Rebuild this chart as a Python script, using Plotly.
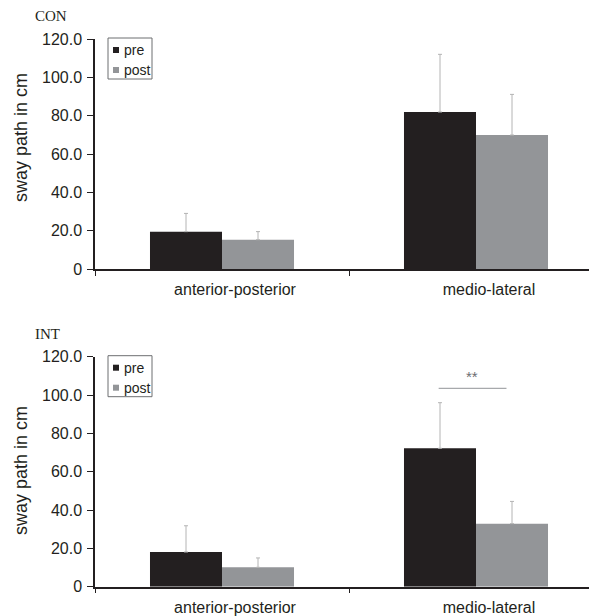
import plotly.graph_objects as go

# ---- data ----
categories = ["anterior-posterior", "medio-lateral"]
series_names = ["pre", "post"]
panel_titles = ["CON", "INT"]
y_title = "sway path in cm"

con_pre = [19.5, 81.9]
con_post = [15.3, 69.9]
con_pre_err = [9.5, 30.1]
con_post_err = [4.2, 21.2]

int_pre = [18.1, 72.2]
int_post = [10.1, 32.9]
int_pre_err = [13.7, 23.8]
int_post_err = [4.9, 11.6]

y_tickvals = [0, 20, 40, 60, 80, 100, 120]
y_ticktext = ["0", "20.0", "40.0", "60.0", "80.0", "100.0", "120.0"]

sig_label = "**"
sig_level = 103.5

# ---- style ----
PAGE_OFF = 8          # default body margin of the html page
W, H = 597 - PAGE_OFF, 616 - PAGE_OFF
PRE_COLOR = "#231f20"
POST_COLOR = "#939598"
ERR_COLOR = "#b4b4b4"
TXT = "#231f20"
FONT = "Liberation Sans"

def px_x(p):
    return (p - PAGE_OFF) / W

def px_y(p):
    return 1 - (p - PAGE_OFF) / H

# panel geometry (page pixels)
x_left, x_right_full = 95, 603
panels_px = [(39, 269), (356.7, 586.7)]  # (top, bottom) of y-range 0..120
ytitle_centers = [138, 471]

fig = go.Figure()

data_sets = [
    (con_pre, con_post, con_pre_err, con_post_err),
    (int_pre, int_post, int_pre_err, int_post_err),
]

for i, (pre, post, pre_e, post_e) in enumerate(data_sets):
    xa = "x" if i == 0 else "x2"
    ya = "y" if i == 0 else "y2"
    for name, vals, errs, col in [
        (series_names[0], pre, pre_e, PRE_COLOR),
        (series_names[1], post, post_e, POST_COLOR),
    ]:
        fig.add_trace(go.Bar(
            x=categories, y=vals, name=name, xaxis=xa, yaxis=ya,
            marker=dict(color=col, line=dict(width=0)),
            error_y=dict(type="data", symmetric=False, array=errs,
                         arrayminus=[0] * len(errs),
                         color=ERR_COLOR, thickness=1, width=2),
            showlegend=False,
        ))

cat_px = (x_right_full - x_left) / len(categories)
x_range = [-0.5, -0.5 + (597 - x_left) / cat_px]

layout = dict(
    template="none",
    width=W, height=H,
    margin=dict(l=0, r=0, t=0, b=0, autoexpand=False),
    paper_bgcolor="white", plot_bgcolor="white",
    barmode="group", bargap=0.433, bargroupgap=0,
    font=dict(family=FONT, color=TXT),
    showlegend=False,
)

for i, (top, bot) in enumerate(panels_px):
    sfx = "" if i == 0 else "2"
    layout["xaxis" + sfx] = dict(
        domain=[px_x(x_left), 1], anchor="y" + sfx,
        range=x_range, type="category", automargin=False,
        showline=True, linecolor="#231f20", linewidth=1.5,
        ticks="outside", tickson="boundaries", ticklen=5, tickcolor="#231f20",
        tickwidth=1.2,
        tickfont=dict(size=16, color=TXT, family=FONT),
        ticklabelshift=13, ticklabelstandoff=5,
        showgrid=False, zeroline=False, fixedrange=True,
    )
    layout["yaxis" + sfx] = dict(
        domain=[px_y(bot), px_y(top)], anchor="x" + sfx,
        range=[0, 120], automargin=False,
        tickvals=y_tickvals, ticktext=y_ticktext,
        showline=True, linecolor="#231f20", linewidth=1.5,
        ticks="outside", ticklen=6, tickcolor="#231f20", tickwidth=1.2,
        tickfont=dict(size=16, color=TXT, family=FONT),
        ticklabelstandoff=2,
        showgrid=False, zeroline=False, fixedrange=True,
    )

fig.update_layout(**layout)

shapes = []
annotations = []
for i, (top, bot) in enumerate(panels_px):
    off = top - panels_px[0][0]
    # y-axis title
    annotations.append(dict(
        text=y_title, xref="paper", yref="paper",
        x=px_x(21), y=px_y(ytitle_centers[i]), xanchor="center", yanchor="middle",
        textangle=-90, showarrow=False,
        font=dict(family=FONT, size=18, color=TXT),
    ))
    # panel title
    annotations.append(dict(
        text=panel_titles[i], xref="paper", yref="paper",
        x=px_x(33), y=px_y(16 + off), xanchor="left", yanchor="middle",
        showarrow=False, font=dict(family="Liberation Serif", size=15, color=TXT),
    ))
    # legend box
    shapes.append(dict(type="rect", xref="paper", yref="paper",
                       x0=px_x(108), x1=px_x(152), y0=px_y(38 + off), y1=px_y(79 + off),
                       line=dict(color="#6d6e71", width=1), fillcolor="white"))
    for j, (nm, col) in enumerate(zip(series_names, [PRE_COLOR, POST_COLOR])):
        cy = 50 + 20 * j + off
        shapes.append(dict(type="rect", xref="paper", yref="paper",
                           x0=px_x(113), x1=px_x(119), y0=px_y(cy + 3), y1=px_y(cy - 3),
                           line=dict(width=0), fillcolor=col))
        annotations.append(dict(
            text=nm, xref="paper", yref="paper", x=px_x(122), y=px_y(cy),
            xanchor="left", yanchor="middle", showarrow=False,
            font=dict(family=FONT, size=14, color=TXT),
        ))

# significance marker on INT medio-lateral
shapes.append(dict(type="line", xref="x2", yref="y2",
                   x0=0.853, x1=1.12, y0=sig_level, y1=sig_level,
                   line=dict(color="#a7a9ac", width=1.2)))
annotations.append(dict(text=sig_label, xref="x2", yref="y2",
                        x=0.985, y=sig_level + 0.5, yanchor="bottom", showarrow=False,
                        font=dict(family=FONT, size=15, color="#6d6e71")))

fig.update_layout(shapes=shapes, annotations=annotations)

fig.write_html("out.html")
